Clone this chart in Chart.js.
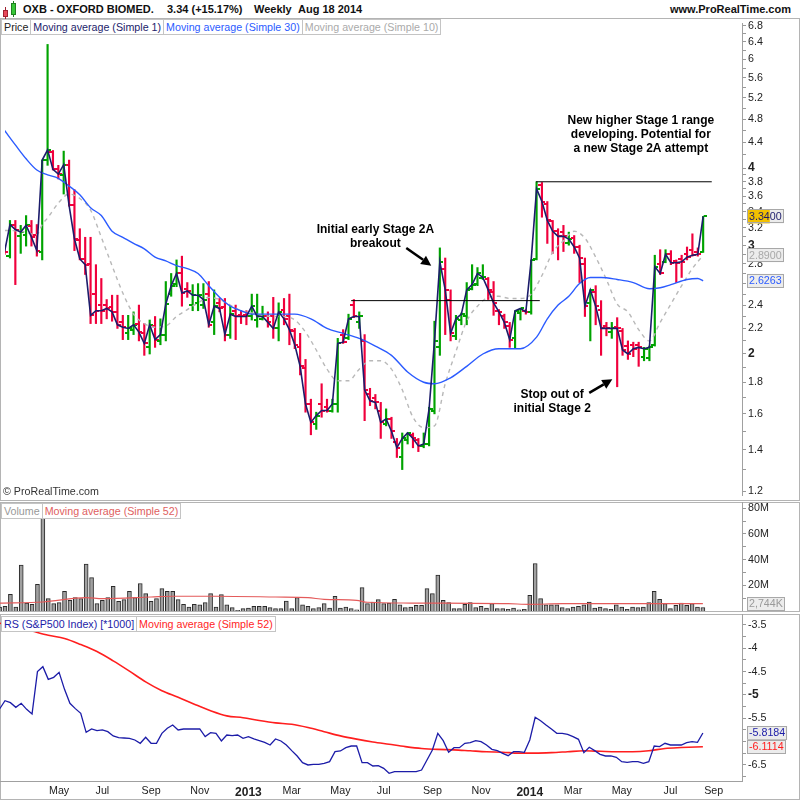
<!DOCTYPE html>
<html lang="en">
<head>
<meta charset="UTF-8">
<title>OXB - OXFORD BIOMED. Weekly</title>
<script src="https://cdn.jsdelivr.net/npm/chart.js"></script>
<style>
  body { margin: 0; background: #fff; font-family: "Liberation Sans", Arial, sans-serif; }
  #page { position: relative; width: 800px; height: 800px; overflow: hidden; background: #fff; }
  #page canvas { position: absolute; left: 0; }
  .frame { position: absolute; left: 0; width: 800px; box-sizing: border-box; border: 1px solid #b4b4b4; }
  .head { position: absolute; top: 3px; line-height: 13px; font-weight: bold; font-size: 11px; color: #111; white-space: nowrap; }
  .legend { position: absolute; left: 1px; display: flex; font-size: 10.7px; z-index: 2; }
  .legend span { border: 1px solid #c4c4c4; background: #fff; padding: 0 2px; height: 14px; line-height: 14px; margin-right: -1px; white-space: nowrap; }
  .ico { position: absolute; box-sizing: border-box; }
</style>
</head>
<body>
<div id="page">
  <div class="frame" style="top:0;height:19px;border-width:0 0 1px 0"></div>
  <div class="frame" style="top:18px;height:483px"></div>
  <div class="frame" style="top:502px;height:110px"></div>
  <div class="frame" style="top:614px;height:186px"></div>

  <!-- small candle icon -->
  <div class="ico" style="left:5px;top:7px;width:1px;height:12px;background:#a02030"></div>
  <div class="ico" style="left:3px;top:10px;width:5px;height:7px;background:#e8485a;border:1px solid #a02030"></div>
  <div class="ico" style="left:13px;top:1px;width:1px;height:16px;background:#208020"></div>
  <div class="ico" style="left:11px;top:3px;width:5px;height:12px;background:#38c838;border:1px solid #208020"></div>

  <div class="head" style="left:23px">OXB - OXFORD BIOMED.</div>
  <div class="head" style="left:167px">3.34 (+15.17%)</div>
  <div class="head" style="left:254px">Weekly</div>
  <div class="head" style="left:298px">Aug 18 2014</div>
  <div class="head" style="right:9px">www.ProRealTime.com</div>

  <div class="legend" style="top:19px">
    <span style="color:#222">Price</span>
    <span style="color:#1c1c6b">Moving average (Simple 1)</span>
    <span style="color:#2b5bff">Moving average (Simple 30)</span>
    <span style="color:#aaaaaa">Moving average (Simple 10)</span>
  </div>
  <div class="legend" style="top:503px">
    <span style="color:#999">Volume</span>
    <span style="color:#e06060">Moving average (Simple 52)</span>
  </div>
  <div class="legend" style="top:616px">
    <span style="color:#1c1ca8">RS (S&amp;P500 Index) [*1000]</span>
    <span style="color:#ff1e1e">Moving average (Simple 52)</span>
  </div>
  <div style="position:absolute;left:3px;top:485px;font-size:10.7px;color:#333;z-index:2">&copy; ProRealTime.com</div>

  <canvas id="priceChart" width="800" height="482" style="top:18px"></canvas>
  <canvas id="volChart" width="800" height="109" style="top:502px"></canvas>
  <canvas id="rsChart" width="800" height="186" style="top:614px"></canvas>
</div>

<script>
// weekly bars, first one (week of 20 Feb 2012) sits just off the left edge
const firstWeek = Date.UTC(2012, 1, 20);

const opens = [
  2.95, 2.88, 3.24, 3.10, 3.12, 3.22, 3.12, 2.93, 4.12, 4.25,
  3.98, 3.90, 4.05, 3.48, 3.06, 2.85, 2.80, 2.50, 2.40, 2.40,
  2.38, 2.34, 2.25, 2.16, 2.19, 2.24, 2.16, 2.05, 2.22, 2.10,
  2.15, 2.50, 2.60, 2.70, 2.55, 2.40, 2.42, 2.40, 2.50, 2.25,
  2.42, 2.38, 2.15, 2.35, 2.31, 2.31, 2.30, 2.27, 2.28, 2.30,
  2.30, 2.20, 2.36, 2.30, 2.18, 2.05, 1.90, 1.66, 1.54, 1.66,
  1.64, 1.62, 1.66, 2.15, 2.12, 2.40, 2.25, 2.10, 1.72, 1.70,
  1.62, 1.54, 1.57, 1.44, 1.36, 1.45, 1.48, 1.45, 1.42, 1.43,
  1.62, 2.05, 2.75, 2.45, 2.14, 2.27, 2.30, 2.55, 2.60, 2.65,
  2.64, 2.52, 2.35, 2.30, 2.22, 2.12, 2.33, 2.35, 2.34, 2.85,
  3.75, 3.50, 3.28, 3.16, 3.15, 3.03, 3.08, 2.98, 2.80, 2.42,
  2.52, 2.36, 2.22, 2.17, 2.21, 2.18, 2.06, 2.07, 2.07, 1.98,
  1.97, 2.07, 2.80, 2.82, 2.90, 2.83, 2.85, 2.90, 2.95, 2.92,
  2.92
];
const highs = [
  3.00, 3.29, 3.29, 3.23, 3.35, 3.29, 3.24, 4.12, 6.34, 4.27,
  4.04, 4.26, 4.12, 3.69, 3.19, 3.09, 3.09, 2.79, 2.65, 2.45,
  2.49, 2.49, 2.31, 2.31, 2.34, 2.40, 2.24, 2.27, 2.30, 2.28,
  2.62, 2.70, 2.84, 2.88, 2.61, 2.59, 2.60, 2.60, 2.62, 2.54,
  2.46, 2.46, 2.39, 2.40, 2.35, 2.35, 2.50, 2.50, 2.39, 2.34,
  2.47, 2.42, 2.46, 2.50, 2.20, 2.16, 1.96, 1.69, 1.61, 1.79,
  1.69, 1.69, 2.12, 2.19, 2.32, 2.45, 2.34, 2.15, 1.76, 1.72,
  1.67, 1.63, 1.58, 1.46, 1.49, 1.49, 1.49, 1.46, 1.49, 1.64,
  2.26, 2.97, 2.86, 2.54, 2.31, 2.33, 2.61, 2.79, 2.76, 2.79,
  2.66, 2.62, 2.36, 2.32, 2.25, 2.35, 2.37, 2.36, 2.84, 3.80,
  3.79, 3.53, 3.29, 3.19, 3.23, 3.15, 3.11, 3.00, 2.86, 2.54,
  2.58, 2.44, 2.25, 2.25, 2.29, 2.20, 2.10, 2.09, 2.09, 2.05,
  2.06, 2.89, 2.95, 2.95, 2.94, 2.84, 2.89, 2.98, 3.13, 2.97,
  3.34
];
const lows = [
  2.90, 2.86, 2.59, 2.91, 2.99, 2.99, 2.88, 2.84, 4.04, 3.97,
  3.84, 3.63, 3.47, 2.94, 2.84, 2.69, 2.24, 2.24, 2.24, 2.28,
  2.26, 2.20, 2.11, 2.11, 2.15, 2.10, 1.99, 2.00, 2.05, 2.07,
  2.10, 2.48, 2.57, 2.39, 2.47, 2.35, 2.35, 2.37, 2.21, 2.15,
  2.34, 2.10, 2.12, 2.11, 2.24, 2.23, 2.27, 2.21, 2.27, 2.21,
  2.12, 2.10, 2.23, 2.07, 2.04, 1.85, 1.61, 1.48, 1.51, 1.58,
  1.61, 1.61, 1.61, 2.08, 2.11, 2.29, 2.20, 1.56, 1.65, 1.63,
  1.46, 1.53, 1.46, 1.36, 1.30, 1.43, 1.41, 1.39, 1.41, 1.42,
  1.60, 1.99, 2.15, 2.10, 2.11, 2.23, 2.23, 2.54, 2.58, 2.64,
  2.45, 2.31, 2.23, 2.20, 2.05, 2.04, 2.27, 2.32, 2.32, 2.84,
  3.33, 3.02, 2.91, 2.84, 2.93, 3.00, 2.91, 2.61, 2.30, 2.10,
  2.23, 1.99, 2.14, 2.12, 1.77, 1.99, 1.96, 1.98, 1.91, 1.95,
  1.95, 2.06, 2.69, 2.81, 2.79, 2.61, 2.66, 2.84, 2.88, 2.88,
  2.92
];
const closes = [
  2.93, 3.24, 3.18, 3.15, 3.23, 3.09, 2.94, 4.12, 4.28, 3.98,
  3.91, 4.05, 3.48, 3.07, 2.85, 2.79, 2.31, 2.35, 2.35, 2.37,
  2.34, 2.23, 2.21, 2.20, 2.23, 2.17, 2.08, 2.23, 2.11, 2.15,
  2.41, 2.58, 2.70, 2.51, 2.53, 2.49, 2.49, 2.45, 2.23, 2.39,
  2.37, 2.15, 2.32, 2.30, 2.30, 2.30, 2.39, 2.30, 2.30, 2.25,
  2.20, 2.34, 2.28, 2.19, 2.07, 1.91, 1.66, 1.55, 1.59, 1.62,
  1.62, 1.66, 2.08, 2.09, 2.28, 2.30, 2.30, 1.75, 1.68, 1.67,
  1.55, 1.57, 1.50, 1.41, 1.46, 1.49, 1.46, 1.42, 1.43, 1.63,
  2.10, 2.82, 2.54, 2.16, 2.28, 2.32, 2.54, 2.59, 2.70, 2.66,
  2.54, 2.42, 2.34, 2.25, 2.11, 2.35, 2.37, 2.34, 2.84, 3.70,
  3.53, 3.29, 3.16, 3.10, 3.10, 3.07, 2.98, 2.86, 2.39, 2.54,
  2.39, 2.20, 2.20, 2.20, 2.20, 2.03, 2.00, 2.04, 2.05, 2.04,
  2.05, 2.77, 2.70, 2.90, 2.81, 2.81, 2.82, 2.87, 2.89, 2.90,
  3.34
];
// volume in millions of shares
const volumes = [
  3.0, 3.6, 13, 3.1, 35.7, 6.2, 5.2, 20.8, 75, 9.6,
  5.7, 6.5, 15.4, 8.3, 10.4, 9.6, 36.5, 26, 5.7, 8.3,
  10.4, 19.3, 7.6, 8.9, 15.4, 10.4, 21.4, 13.5, 7.6, 9.6,
  17.4, 15.4, 15.4, 8.9, 5.2, 3.1, 5.2, 4.9, 6.5, 13.5,
  3.1, 12.8, 4.9, 2.6, 0.5, 1.8, 2.3, 3.6, 3.6, 3.6,
  2.6, 1.8, 1.8, 7.8, 1.8, 10.4, 4.9, 3.6, 1.8, 2.6,
  5.7, 2.3, 11.5, 2.3, 3.1, 1.8, 1.0, 18.2, 5.7, 7.0,
  8.9, 5.7, 6.2, 9.1, 4.9, 2.6, 3.1, 4.4, 4.4, 17.4,
  13.5, 27.9, 8.3, 6.5, 1.8, 1.8, 5.2, 6.5, 2.6, 3.6,
  2.3, 5.7, 1.8, 1.8, 1.3, 2.3, 1.0, 1.3, 12.2, 37,
  9.6, 4.9, 4.9, 4.9, 2.6, 1.8, 3.1, 3.6, 4.9, 7.0,
  2.3, 3.1, 1.8, 1.3, 4.9, 3.1, 1.3, 3.1, 2.6, 3.1,
  6.5, 15.4, 9.1, 5.7, 1.8, 4.4, 6.2, 4.4, 5.7, 3.1,
  2.744
];
const rsValues = [
  -5.303, -5.124, -5.167, -5.267, -5.181, -5.310, -5.410, -4.501, -4.394, -4.666,
  -4.623, -4.516, -4.881, -5.181, -5.295, -5.396, -5.803, -5.732, -5.768, -5.753,
  -5.789, -5.882, -5.918, -5.925, -5.932, -5.968, -6.039, -5.911, -6.039, -6.039,
  -5.825, -5.717, -5.646, -5.753, -5.732, -5.732, -5.732, -5.732, -5.896, -5.811,
  -5.825, -5.989, -5.861, -5.875, -5.861, -5.932, -5.896, -5.946, -5.982, -6.018,
  -6.075, -5.946, -5.989, -6.075, -6.197, -6.311, -6.454, -6.504, -6.490, -6.490,
  -6.469, -6.433, -6.218, -6.204, -6.132, -6.097, -6.097, -6.454, -6.454, -6.526,
  -6.519, -6.576, -6.683, -6.647, -6.647, -6.647, -6.647, -6.647, -6.612, -6.397,
  -6.182, -5.825, -5.982, -6.232, -6.132, -6.132, -6.039, -6.025, -5.982, -6.004,
  -6.075, -6.168, -6.197, -6.254, -6.304, -6.218, -6.218, -6.232, -5.968, -5.481,
  -5.553, -5.646, -5.732, -5.825, -5.825, -5.846, -5.896, -5.954, -6.240, -6.125,
  -6.197, -6.275, -6.311, -6.311, -6.340, -6.433, -6.447, -6.433, -6.433, -6.469,
  -6.433, -6.097, -6.111, -6.039, -6.075, -6.075, -6.075, -6.025, -6.004, -6.018,
  -5.8184
];

// moving averages (week index, value)
const ma30Weeks = [0, 2, 4, 6, 8, 10, 12, 14, 16, 18, 20, 22, 24, 26, 28, 30, 32, 34, 36, 38, 40, 42, 44, 46, 50, 54, 57, 60, 63, 66, 69, 72, 75, 78, 80, 83, 86, 89, 92, 96, 99, 101, 103, 105, 107, 109, 111, 114, 117, 120, 122, 124, 127, 129, 130];
const ma30Values = [4.60, 4.36, 4.14, 3.97, 3.90, 3.85, 3.74, 3.62, 3.45, 3.35, 3.16, 3.09, 3.02, 2.96, 2.87, 2.83, 2.78, 2.75, 2.70, 2.58, 2.47, 2.39, 2.35, 2.32, 2.32, 2.32, 2.28, 2.20, 2.16, 2.12, 2.06, 1.99, 1.87, 1.80, 1.79, 1.83, 1.91, 2.00, 2.04, 2.04, 2.13, 2.28, 2.40, 2.48, 2.60, 2.66, 2.66, 2.64, 2.61, 2.55, 2.56, 2.59, 2.64, 2.65, 2.6263];
const ma10Weeks = [0, 3, 6, 7, 8, 10, 12, 14, 16, 18, 20, 22, 24, 26, 28, 30, 32, 34, 36, 38, 40, 42, 44, 46, 48, 50, 52, 54, 56, 58, 60, 62, 64, 66, 68, 70, 72, 74, 76, 78, 80, 82, 84, 86, 88, 90, 92, 94, 96, 98, 100, 102, 104, 106, 108, 110, 112, 114, 116, 118, 120, 122, 124, 126, 128, 130];
const ma10Values = [3.17, 3.16, 3.12, 3.24, 3.32, 3.51, 3.63, 3.57, 3.42, 3.09, 2.78, 2.51, 2.32, 2.24, 2.21, 2.22, 2.30, 2.36, 2.42, 2.47, 2.45, 2.40, 2.35, 2.33, 2.31, 2.30, 2.30, 2.27, 2.17, 2.03, 1.89, 1.81, 1.81, 1.89, 1.95, 1.95, 1.89, 1.75, 1.58, 1.52, 1.53, 1.79, 2.02, 2.26, 2.39, 2.47, 2.48, 2.46, 2.46, 2.50, 2.68, 2.92, 3.05, 3.16, 3.08, 2.87, 2.64, 2.41, 2.34, 2.19, 2.10, 2.25, 2.41, 2.58, 2.75, 2.89];
const volMaWeeks = [0, 8, 16, 19, 28, 32, 40, 51, 57, 60, 66, 68, 76, 94, 98, 104, 130];
const volMaValues = [6.2, 7.0, 10.4, 9.6, 10.9, 11.5, 11.5, 10.9, 10.4, 9.1, 8.3, 6.8, 6.2, 5.7, 5.2, 5.7, 5.7];
const rsMaWeeks = [0, 3, 6, 9, 12, 15, 18, 21, 24, 27, 30, 33, 36, 39, 42, 45, 48, 51, 54, 57, 60, 63, 66, 69, 72, 75, 78, 81, 84, 87, 90, 93, 96, 99, 102, 105, 108, 111, 114, 117, 120, 123, 126, 130];
const rsMaValues = [-3.46, -3.54, -3.63, -3.72, -3.79, -3.92, -4.07, -4.27, -4.49, -4.72, -4.91, -5.05, -5.20, -5.34, -5.45, -5.49, -5.55, -5.60, -5.63, -5.70, -5.79, -5.88, -5.95, -6.01, -6.06, -6.11, -6.15, -6.17, -6.18, -6.20, -6.22, -6.23, -6.25, -6.25, -6.24, -6.22, -6.20, -6.21, -6.22, -6.22, -6.20, -6.15, -6.13, -6.1114];

// horizontal range lines (start week, end week, price)
const levelFrom = [64.5, 98.9];
const levelTo = [99.6, 131.6];
const levelPrice = [2.44, 3.80];

// axis ticks
const xTickDates = ['2012-05-07', '2012-07-02', '2012-09-03', '2012-11-05', '2013-01-07', '2013-03-04', '2013-05-06', '2013-07-01', '2013-09-02', '2013-11-04', '2014-01-06', '2014-03-03', '2014-05-05', '2014-07-07', '2014-09-01'];
const xTickLabels = ['May', 'Jul', 'Sep', 'Nov', '2013', 'Mar', 'May', 'Jul', 'Sep', 'Nov', '2014', 'Mar', 'May', 'Jul', 'Sep'];
const priceLabels = [1.2, 1.4, 1.6, 1.8, 2, 2.2, 2.4, 2.6, 2.8, 3, 3.2, 3.4, 3.6, 3.8, 4, 4.4, 4.8, 5.2, 5.6, 6, 6.4, 6.8];
const priceMinor = [1.3, 1.5, 1.7, 1.9, 2.1, 2.3, 2.5, 2.7, 2.9, 3.1, 3.3, 3.5, 3.7, 3.9, 4.2, 4.6, 5, 5.4, 5.8, 6.2, 6.6];
const priceMajor = [2, 3, 4];
const volLabels = [20, 40, 60, 80];
const volMinor = [10, 30, 50, 70];
const rsLabels = [-3.5, -4, -4.5, -5, -5.5, -6, -6.5];
const rsMinor = [-3.75, -4.25, -4.75, -5.25, -5.75, -6.25, -6.75];
const rsMajor = [-5];

// notes written on the price panel
const notes = [
  { lines: ['Initial early Stage 2A', 'breakout'], week: 69.0, price: 3.18 },
  { lines: ['New higher Stage 1 range', 'developing. Potential for', 'a new Stage 2A attempt'], week: 118.4, price: 4.77 },
  { lines: ['Stop out of', 'initial Stage 2'], week: 101.9, price: 1.72 }
];
const arrows = [
  { from: [74.75, 2.97], to: [79.4, 2.78] },
  { from: [108.8, 1.73], to: [113.1, 1.82] }
];

const GREEN = '#00a300', RED = '#f0003c', NAVY = '#1c1c6b';
const FONT = '"Liberation Sans", Arial, Helvetica, sans-serif';

Chart.defaults.font.family = FONT;
Chart.defaults.font.size = 10.7;
Chart.defaults.color = '#222';
Chart.defaults.animation = false;

const weekIdx = closes.map((_, k) => k);
const pts = (xs, ys) => xs.map((x, i) => ({ x: x, y: ys[i] }));
const xTickPos = xTickDates.map(d => (Date.parse(d) - firstWeek) / (7 * 86400000));
const isUp = k => closes[k] >= opens[k];

// plot spans 742px, bars 5.41px apart, bar 1 sits at x=5
const X_MIN = 1 - 5 / 5.41, X_MAX = 1 + 737 / 5.41;

function xAxis(show) {
  return {
    type: 'linear', min: X_MIN, max: X_MAX, offset: false, bounds: 'data', display: show,
    grid: { drawOnChartArea: false, drawTicks: false },
    border: { display: true, color: '#a0a0a0' },
    afterBuildTicks: a => { a.ticks = xTickPos.map(v => ({ value: v })); },
    afterFit: a => { a.height = show ? 19 : 0; a.paddingLeft = 0; a.paddingRight = 0; },
    ticks: {
      autoSkip: false, maxRotation: 0, padding: 4, color: '#222',
      callback: (v, i) => xTickLabels[i],
      font: c => (c.tick && /^\d{4}$/.test(xTickLabels[c.index]) ? { size: 12, weight: 'bold' } : { size: 10.7 })
    }
  };
}

function yAxis(type, min, max, labels, minor, major, fmt) {
  const all = labels.concat(minor);
  return {
    type: type, position: 'right', min: min, max: max, bounds: 'data',
    grid: { drawOnChartArea: false, drawTicks: true, tickLength: 4, color: '#999' },
    border: { display: true, color: '#a0a0a0' },
    afterBuildTicks: a => { a.ticks = all.map(v => ({ value: v })); },
    afterFit: a => { a.width = 58; a.paddingTop = 0; a.paddingBottom = 0; },
    ticks: {
      autoSkip: false, padding: 2, color: '#222',
      callback: v => (labels.includes(v) ? fmt(v) : ''),
      font: c => (c.tick && major.includes(c.tick.value) ? { size: 12, weight: 'bold' } : { size: 10.7 })
    }
  };
}

// value tags on the right axis
function valueTags(id, items) {
  return {
    id: id,
    afterDraw(chart) {
      const ctx = chart.ctx, area = chart.chartArea, sc = chart.scales.y;
      ctx.save();
      ctx.font = '10.7px ' + FONT;
      ctx.textBaseline = 'middle';
      items.forEach(it => {
        let py = sc.getPixelForValue(it.value);
        py = Math.min(Math.max(py, area.top + 7), area.bottom - 7);
        const x0 = area.right + 5, w = ctx.measureText(it.text).width + 4;
        ctx.fillStyle = '#ececec';
        ctx.fillRect(x0, py - 7, w, 14);
        if (it.hilite) {
          ctx.fillStyle = '#f2c000';
          ctx.fillRect(x0, py - 7, ctx.measureText(it.hilite).width + 2, 14);
        }
        ctx.strokeStyle = '#a8a8a8';
        ctx.lineWidth = 1;
        ctx.strokeRect(Math.round(x0) + 0.5, Math.round(py - 7) + 0.5, Math.round(w) - 1, 13);
        ctx.fillStyle = it.color;
        ctx.fillText(it.text, x0 + 2, py + 0.5);
      });
      ctx.restore();
    }
  };
}

const notesPlugin = {
  id: 'notes',
  afterDatasetsDraw(chart) {
    const { ctx, scales: { x, y } } = chart;
    ctx.save();
    ctx.fillStyle = '#000';
    ctx.strokeStyle = '#000';
    ctx.font = 'bold 12px ' + FONT;
    ctx.textAlign = 'center';
    ctx.textBaseline = 'middle';
    notes.forEach(n => {
      const px = x.getPixelForValue(n.week), py = y.getPixelForValue(n.price);
      n.lines.forEach((t, i) => ctx.fillText(t, px, py + i * 14));
    });
    arrows.forEach(a => {
      const x1 = x.getPixelForValue(a.from[0]), y1 = y.getPixelForValue(a.from[1]);
      const x2 = x.getPixelForValue(a.to[0]), y2 = y.getPixelForValue(a.to[1]);
      const ang = Math.atan2(y2 - y1, x2 - x1), hl = 10, hw = 5;
      const bx = x2 - hl * Math.cos(ang), by = y2 - hl * Math.sin(ang);
      ctx.lineWidth = 2.5;
      ctx.beginPath(); ctx.moveTo(x1, y1); ctx.lineTo(bx, by); ctx.stroke();
      ctx.beginPath();
      ctx.moveTo(x2, y2);
      ctx.lineTo(bx + hw * Math.sin(ang), by - hw * Math.cos(ang));
      ctx.lineTo(bx - hw * Math.sin(ang), by + hw * Math.cos(ang));
      ctx.closePath(); ctx.fill();
    });
    ctx.restore();
  }
};

// open tick on the left of the bar, close tick on the right
function tickImg(color, left) {
  const c = document.createElement('canvas');
  c.width = 7; c.height = 2;
  const g = c.getContext('2d');
  g.fillStyle = color;
  g.fillRect(left ? 0 : 4, 0, 3, 2);
  return c;
}
const openUp = tickImg(GREEN, true), openDn = tickImg(RED, true);
const closeUp = tickImg(GREEN, false), closeDn = tickImg(RED, false);

const base = {
  responsive: false, devicePixelRatio: 1, events: [],
  layout: { padding: 0 },
  plugins: { legend: { display: false }, tooltip: { enabled: false } }
};

// price panel
new Chart(document.getElementById('priceChart'), {
  type: 'line',
  data: {
    datasets: [
      { data: pts(weekIdx, closes), borderColor: NAVY, borderWidth: 1.6, pointRadius: 0, order: 1 },
      { data: pts(ma30Weeks, ma30Values), borderColor: '#2b5bff', borderWidth: 1.4, pointRadius: 0, cubicInterpolationMode: 'monotone', order: 2 },
      { data: pts(ma10Weeks, ma10Values), borderColor: '#b8b8b8', borderWidth: 1.4, borderDash: [4, 4], pointRadius: 0, cubicInterpolationMode: 'monotone', order: 3 },
      { data: [{ x: levelFrom[0], y: levelPrice[0] }, { x: levelTo[0], y: levelPrice[0] }], borderColor: '#000', borderWidth: 1, pointRadius: 0, order: 0 },
      { data: [{ x: levelFrom[1], y: levelPrice[1] }, { x: levelTo[1], y: levelPrice[1] }], borderColor: '#000', borderWidth: 1, pointRadius: 0, order: 0 },
      { data: pts(weekIdx, opens), showLine: false, pointRadius: 3, pointStyle: c => (isUp(c.dataIndex) ? openUp : openDn), order: 4 },
      { data: pts(weekIdx, closes), showLine: false, pointRadius: 3, pointStyle: c => (isUp(c.dataIndex) ? closeUp : closeDn), order: 4 },
      { type: 'bar', data: weekIdx.map(k => ({ x: k, y: [lows[k], highs[k]] })), backgroundColor: weekIdx.map(k => (isUp(k) ? GREEN : RED)), barThickness: 1.5, borderWidth: 0, order: 5 }
    ]
  },
  options: Object.assign({}, base, {
    scales: {
      x: xAxis(false),
      y: yAxis('logarithmic', 1.1825, 6.867, priceLabels, priceMinor, priceMajor, v => String(v))
    }
  }),
  plugins: [notesPlugin, valueTags('priceTags', [
    { value: closes[closes.length - 1], text: closes[closes.length - 1].toFixed(4), hilite: '3.34', color: NAVY },
    { value: ma10Values[ma10Values.length - 1], text: ma10Values[ma10Values.length - 1].toFixed(4), color: '#a8a8a8' },
    { value: ma30Values[ma30Values.length - 1], text: ma30Values[ma30Values.length - 1].toFixed(4), color: '#2b5bff' }
  ])]
});

// volume panel
const lastVol = volumes[volumes.length - 1];
new Chart(document.getElementById('volChart'), {
  type: 'line',
  data: {
    datasets: [
      { data: pts(volMaWeeks, volMaValues), borderColor: '#e45a5a', borderWidth: 1.2, pointRadius: 0, cubicInterpolationMode: 'monotone', order: 1 },
      { type: 'bar', data: pts(weekIdx, volumes), backgroundColor: '#a0a0a0', borderColor: '#2a2a2a', borderWidth: 1, barThickness: 4, order: 2 }
    ]
  },
  options: Object.assign({}, base, {
    scales: {
      x: xAxis(false),
      y: yAxis('linear', 0, 84.9, volLabels, volMinor, [], v => v + 'M')
    }
  }),
  plugins: [valueTags('volTags', [
    { value: lastVol, text: Math.round(lastVol * 1000).toLocaleString('en-US') + 'K', color: '#999' }
  ])]
});

// relative strength panel
new Chart(document.getElementById('rsChart'), {
  type: 'line',
  data: {
    datasets: [
      { data: pts(weekIdx, rsValues), borderColor: '#1c1ca8', borderWidth: 1.3, pointRadius: 0, order: 1 },
      { data: pts(rsMaWeeks, rsMaValues), borderColor: '#ff1e1e', borderWidth: 1.6, pointRadius: 0, cubicInterpolationMode: 'monotone', order: 2 }
    ]
  },
  options: Object.assign({}, base, {
    scales: {
      x: xAxis(true),
      y: yAxis('linear', -6.848, -3.264, rsLabels, rsMinor, rsMajor, v => String(v))
    }
  }),
  plugins: [valueTags('rsTags', [
    { value: rsValues[rsValues.length - 1], text: rsValues[rsValues.length - 1].toFixed(4), color: '#1c1ca8' },
    { value: rsMaValues[rsMaValues.length - 1], text: rsMaValues[rsMaValues.length - 1].toFixed(4), color: '#ff1e1e' }
  ])]
});
</script>
</body>
</html>
